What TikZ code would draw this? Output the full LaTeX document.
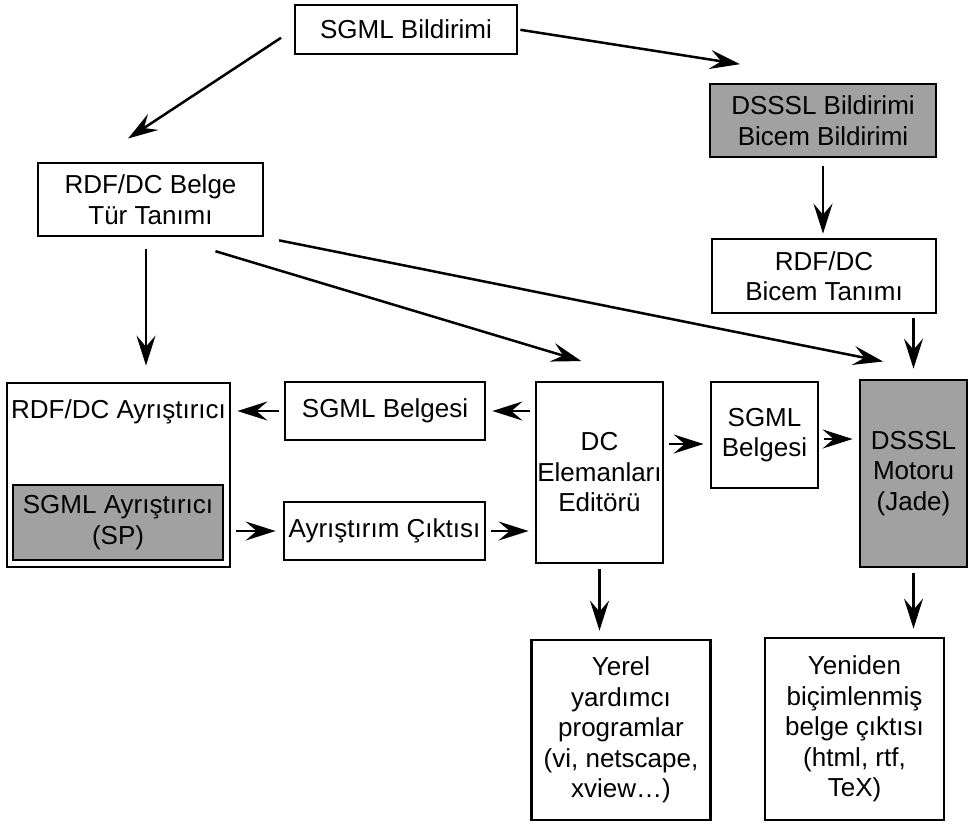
\documentclass[tikz,border=0pt]{standalone}
\usepackage{fontspec}
\setmainfont{Liberation Sans}
\usetikzlibrary{arrows.meta}

\begin{document}
\begin{tikzpicture}[x=1pt, y=-1pt, -{Stealth[length=30pt, width=19pt, inset=11pt]}, shorten >=6pt, shorten <=5pt, line width=2.5pt]
    \tikzstyle{box}=[draw, line width=2.8pt, inner sep=0pt, align=center, font=\fontsize{26}{30.5}\selectfont];
    \tikzstyle{gray box}=[box, fill=black!37];
    \useasboundingbox (0,0) rectangle (976,823);

    % Declarations and definitions
    \node[box, minimum width=222pt, minimum height=49pt] (sgmlbil) at (406,29.5) {SGML Bildirimi};
    \node[gray box, minimum width=226pt, minimum height=73pt] (dssslbil) at (823,120.5) {DSSSL Bildirimi\\Bicem Bildirimi};
    \node[box, minimum width=225pt, minimum height=73pt] (rdfbelge) at (150.5,199.5) {RDF/DC Belge\\Tür Tanımı};
    \node[box, minimum width=224pt, minimum height=74pt] (rdfbicem) at (824,276) {RDF/DC\\Bicem Tanımı};

    % Parser block
    \node[box, minimum width=223pt, minimum height=184pt] (ayris) at (118.5,475) {};
    \node[box, draw=none] (ayrislbl) at (118.5,412) {RDF/DC Ayrıştırıcı};
    \node[gray box, minimum width=210pt, minimum height=75pt] (sgmlayris) at (118,522.5) {SGML Ayrıştırıcı\\(SP)};

    % Middle row
    \node[box, minimum width=200pt, minimum height=58pt] (sgmlbelge1) at (385,411) {SGML Belgesi};
    \node[box, minimum width=201pt, minimum height=58pt] (ayriscikti) at (384.5,531) {Ayrıştırım Çıktısı};
    \node[box, minimum width=127pt, minimum height=181pt] (dceditor) at (599.5,472.5) {DC\\Elemanları\\Editörü};
    \node[box, minimum width=107pt, minimum height=106pt] (sgmlbelge2) at (764.5,435) {SGML\\Belgesi};
    \node[gray box, minimum width=107pt, minimum height=187pt] (dsssl) at (913.5,473.5) {DSSSL\\Motoru\\(Jade)};

    % Outputs
    \node[box, minimum width=179pt, minimum height=180pt] (yerel) at (621,730) {Yerel\\yardımcı\\programlar\\(vi, netscape,\\xview…)};
    \node[box, minimum width=179pt, minimum height=182pt] (yeniden) at (854.5,729) {Yeniden\\biçimlenmiş\\belge çıktısı\\(html, rtf,\\TeX)};

    % Arrows from the declarations
    \path (sgmlbil.west) edge[shorten <=15pt, shorten >=42pt] ([xshift=-57.5pt]rdfbelge.north);
    \path (sgmlbil.east) edge[shorten <=2pt, shorten >=119pt] ([xshift=34.5pt]dssslbil.north);
    \path (dssslbil.south) edge[shorten <=8pt, shorten >=4pt] (dssslbil.south |- rdfbicem.north);
    \path ([xshift=-4.5pt]rdfbelge.south) edge[shorten <=12pt, shorten >=16pt] ([xshift=-4.5pt]rdfbelge.south |- ayris.north);
    \path ([xshift=19pt]rdfbelge.south) edge[shorten <=48pt, shorten >=68pt] ([xshift=-18pt]dceditor.north east);
    \path (rdfbelge.south east) edge[shorten <=15pt, shorten >=87pt] (dsssl.north east);
    \path (rdfbicem.south -| dsssl.north) edge[shorten <=4pt, shorten >=10pt] (dsssl.north);

    % Arrows between the middle boxes
    \path (dceditor.west |- sgmlbelge1.east) edge (sgmlbelge1.east);
    \path (sgmlbelge1.west) edge (sgmlbelge1.west -| ayris.east);
    \path (ayriscikti.west -| ayris.east) edge[shorten >=7pt] (ayriscikti.west);
    \path (ayriscikti.east) edge (ayriscikti.east -| dceditor.west);
    \path ([yshift=-9pt]dceditor.east |- sgmlbelge2.west) edge ([yshift=-9pt]sgmlbelge2.west);
    \path ([yshift=-4pt]sgmlbelge2.east) edge ([yshift=-4pt]sgmlbelge2.east -| dsssl.west);

    % Down to the outputs
    \foreach \src/\dst in {dceditor/yerel, dsssl/yeniden}
        \path (\src.south) edge[shorten >=8pt] (\src.south |- \dst.north);

\end{tikzpicture}
\end{document}
